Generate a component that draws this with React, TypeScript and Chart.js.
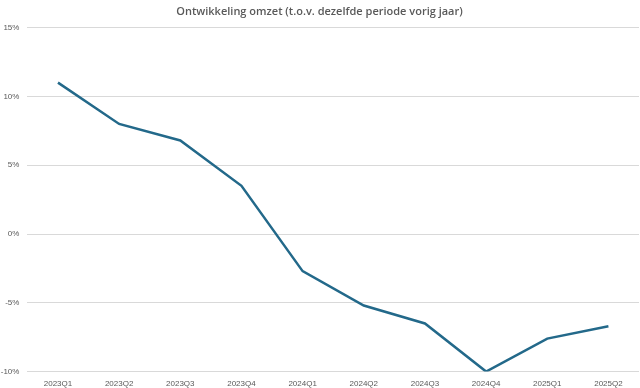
import React, { useEffect, useRef } from "react";
import { Chart, registerables } from "chart.js";

Chart.register(...registerables);

const categories = ["2023Q1", "2023Q2", "2023Q3", "2023Q4", "2024Q1", "2024Q2", "2024Q3", "2024Q4", "2025Q1", "2025Q2"];
const omzetGroei = [11.0, 8.0, 6.8, 3.5, -2.7, -5.2, -6.5, -10.0, -7.6, -6.7];
const titleText = "Ontwikkeling omzet (t.o.v. dezelfde periode vorig jaar)";

export default function App() {
  const ref = useRef<HTMLCanvasElement | null>(null);
  useEffect(() => {
    if (!ref.current) return;
    const chart = new Chart(ref.current, {
      type: "line",
      data: {
        labels: categories,
        datasets: [
          {
            data: omzetGroei,
            borderColor: "#23698a",
            borderWidth: 2.5,
            pointRadius: 0,
            tension: 0,
            fill: false,
          },
        ],
      },
      options: {
        animation: false,
        responsive: true,
        maintainAspectRatio: false,
        layout: { padding: { left: 0, right: 1, top: 0, bottom: 0 } },
        plugins: {
          legend: { display: false },
          tooltip: { enabled: false },
          title: {
            display: true,
            text: titleText,
            color: "#595959",
            font: { family: "'Open Sans'", size: 11, weight: "600", lineHeight: 1.2 },
            padding: { top: 5, bottom: 9.4 },
          },
        },
        scales: {
          x: {
            offset: true,
            grid: { display: false, drawTicks: false, offset: true },
            border: { display: false },
            ticks: {
              color: "#595959",
              font: { family: "'Liberation Sans'", size: 8 },
              padding: 7,
              maxRotation: 0,
              autoSkip: false,
            },
            afterFit: (s: any) => {
              s.height = 16.4;
            },
          },
          y: {
            min: -10,
            max: 15,
            grid: { color: "#d9d9d9", lineWidth: 1, drawTicks: false },
            border: { display: false },
            ticks: {
              stepSize: 5,
              color: "#595959",
              font: { family: "'Liberation Sans'", size: 8 },
              padding: 8,
              callback: (v: any) => `${v}%`,
            },
            afterFit: (s: any) => {
              s.width = 27.4;
            },
          },
        },
      },
    });
    return () => chart.destroy();
  }, []);
  return (
    <div style={{ position: "fixed", left: 0, top: 0, width: 640, height: 388, background: "#fff" }}>
      <canvas ref={ref} />
    </div>
  );
}
